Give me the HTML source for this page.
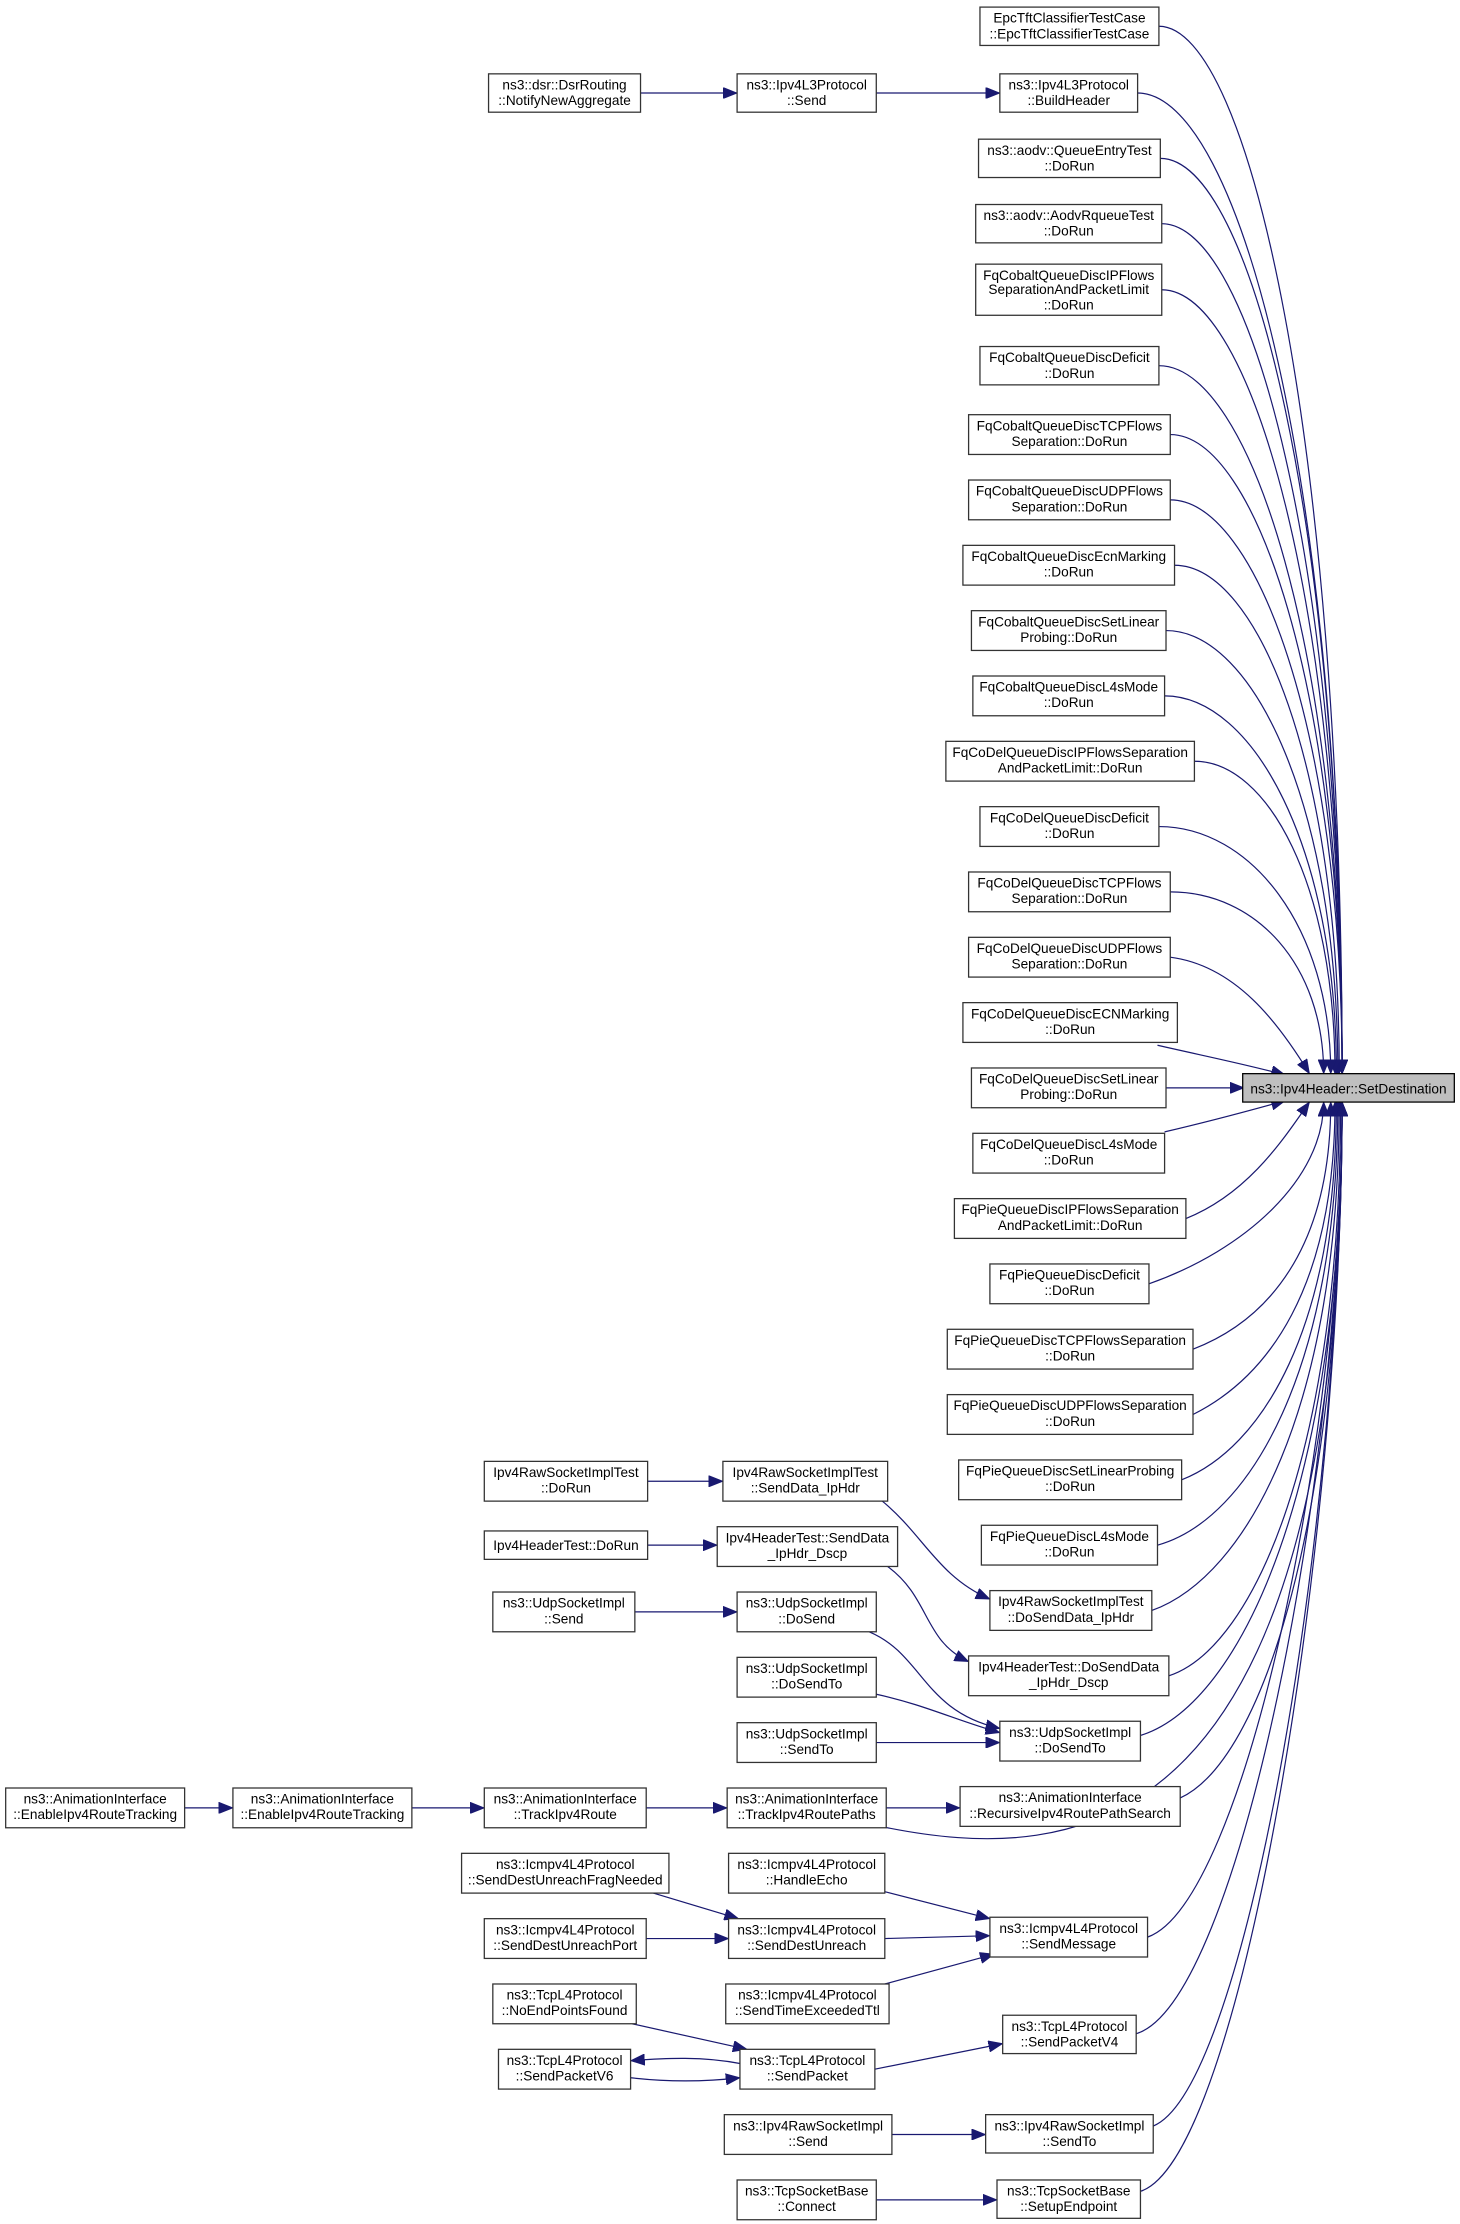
<!DOCTYPE html>
<html><head><meta charset="utf-8"><style>
html,body{margin:0;padding:0;background:#fff;}
svg{display:block;}
text{font-family:"Liberation Sans",Arial,sans-serif;font-size:9.6px;fill:#000;text-anchor:middle;}
rect{fill:#fff;stroke:#333;stroke-width:0.9;}
path{fill:none;stroke:#191970;stroke-width:0.85;}
</style></head><body>
<svg width="1460" height="2224" viewBox="0 0 1028 1566" preserveAspectRatio="none" xmlns="http://www.w3.org/2000/svg">
<defs><marker id="a" markerWidth="10" markerHeight="8" refX="10" refY="4" orient="auto" markerUnits="userSpaceOnUse"><path d="M0,0 L10,4 L0,8 z" style="fill:#191970;stroke:#191970;stroke-width:0.5"/></marker></defs>
<g marker-end="url(#a)">
<path d="M816,18.5 C880,18.5 945,314 945,756"/>
<path d="M801,65.5 C873,65.5 945,342 945,756"/>
<path d="M817,111.5 C881,111.5 945,369 945,756"/>
<path d="M818,157.5 C881,157.5 945,397 945,756"/>
<path d="M818,204 C881,204 945,425 945,756"/>
<path d="M816,257.5 C880,257.5 945,457 945,756"/>
<path d="M824,306 C884,306 945,486 945,756"/>
<path d="M824,352 C884,352 945,514 945,756"/>
<path d="M827,398 C886,398 943,541 943,756"/>
<path d="M821,444 C883,444 942,569 942,756"/>
<path d="M820,490 C882,490 941,596 941,756"/>
<path d="M841,536 C893,536 940,624 940,756"/>
<path d="M816,582 C880,582 937,652 937,756"/>
<path d="M824,628 C884,628 932,679 932,756"/>
<path d="M824,674 C870,680 900,720 922,756"/>
<path d="M815,736 C850,744 880,750 905,757"/>
<path d="M821,766 L876,766"/>
<path d="M820,797 C850,790 880,782 905,775"/>
<path d="M835,858 C880,840 905,800 922,776"/>
<path d="M809,904 C877,880 932,830 932,776"/>
<path d="M840,950 C892,930 937,880 937,776"/>
<path d="M840,996 C892,970 940,908 940,776"/>
<path d="M832,1042 C888,1020 941,936 941,776"/>
<path d="M815,1088 C880,1070 942,963 942,776"/>
<path d="M811,1134 C878,1110 943,991 943,776"/>
<path d="M823,1180 C884,1160 944,1018 944,776"/>
<path d="M803,1222 C874,1200 945,1046 945,776"/>
<path d="M831,1266 C888,1240 945,1074 945,776"/>
<path d="M620,1286 C760,1315 945,1300 945,776"/>
<path d="M808,1364 C876,1340 945,1011 945,776"/>
<path d="M800,1432 C872,1410 945,1039 945,776"/>
<path d="M812,1497 C878,1470 945,1067 945,776"/>
<path d="M803,1543 C874,1520 945,1085 945,776"/>
<!-- left edges -->
<path d="M451,65.5 L519,65.5"/>
<path d="M617,65.5 L704,65.5"/>
<path d="M456,1043 L509,1043"/>
<path d="M620,1056 C650,1080 660,1110 697,1126"/>
<path d="M456,1088 L505,1088"/>
<path d="M625,1103 C655,1125 650,1155 682,1170"/>
<path d="M447,1135 L519,1135"/>
<path d="M612,1149 C650,1165 650,1205 704,1217"/>
<path d="M617,1193 C650,1200 675,1212 704,1220"/>
<path d="M617,1227 L704,1227"/>
<path d="M130,1273 L164,1273"/>
<path d="M290,1273 L341,1273"/>
<path d="M455,1273 L512,1273"/>
<path d="M624,1273 L676,1273"/>
<path d="M460,1333 L520,1351"/>
<path d="M455,1365 L513,1365"/>
<path d="M623,1332 L697,1351"/>
<path d="M623,1365 L697,1363"/>
<path d="M623,1397 L700,1376"/>
<path d="M445,1425 L526,1443"/>
<path d="M521,1453 C495,1448 470,1449 444,1451"/>
<path d="M444,1463 C470,1466 495,1466 521,1463"/>
<path d="M616,1457 L706,1439"/>
<path d="M628,1503 L694,1503"/>
<path d="M617,1549 L702,1549"/>
</g>
<!-- target -->
<rect x="875" y="756" width="149" height="20" style="fill:#bfbfbf;stroke:#000"/>
<text x="949.5" y="770">ns3::Ipv4Header::SetDestination</text>
<!-- right column -->
<rect x="690" y="5" width="126" height="27"/><text x="753" y="16">EpcTftClassifierTestCase</text><text x="753" y="27">::EpcTftClassifierTestCase</text>
<rect x="704" y="52" width="97" height="27"/><text x="752.5" y="63">ns3::Ipv4L3Protocol</text><text x="752.5" y="74">::BuildHeader</text>
<rect x="689" y="98" width="128" height="27"/><text x="753" y="109">ns3::aodv::QueueEntryTest</text><text x="753" y="120">::DoRun</text>
<rect x="687" y="144" width="131" height="27"/><text x="752.5" y="155">ns3::aodv::AodvRqueueTest</text><text x="752.5" y="166">::DoRun</text>
<rect x="687" y="186" width="131" height="36"/><text x="752.5" y="197">FqCobaltQueueDiscIPFlows</text><text x="752.5" y="207">SeparationAndPacketLimit</text><text x="752.5" y="218">::DoRun</text>
<rect x="690" y="244" width="126" height="27"/><text x="753" y="255">FqCobaltQueueDiscDeficit</text><text x="753" y="266">::DoRun</text>
<rect x="682" y="292" width="142" height="28"/><text x="753" y="303">FqCobaltQueueDiscTCPFlows</text><text x="753" y="314">Separation::DoRun</text>
<rect x="682" y="338" width="142" height="28"/><text x="753" y="349">FqCobaltQueueDiscUDPFlows</text><text x="753" y="360">Separation::DoRun</text>
<rect x="678" y="384" width="149" height="28"/><text x="752.5" y="395">FqCobaltQueueDiscEcnMarking</text><text x="752.5" y="406">::DoRun</text>
<rect x="684" y="430" width="137" height="28"/><text x="752.5" y="441">FqCobaltQueueDiscSetLinear</text><text x="752.5" y="452">Probing::DoRun</text>
<rect x="685" y="476" width="135" height="28"/><text x="752.5" y="487">FqCobaltQueueDiscL4sMode</text><text x="752.5" y="498">::DoRun</text>
<rect x="666" y="522" width="175" height="28"/><text x="753.5" y="533">FqCoDelQueueDiscIPFlowsSeparation</text><text x="753.5" y="544">AndPacketLimit::DoRun</text>
<rect x="690" y="568" width="126" height="28"/><text x="753" y="579">FqCoDelQueueDiscDeficit</text><text x="753" y="590">::DoRun</text>
<rect x="682" y="614" width="142" height="28"/><text x="753" y="625">FqCoDelQueueDiscTCPFlows</text><text x="753" y="636">Separation::DoRun</text>
<rect x="682" y="660" width="142" height="28"/><text x="753" y="671">FqCoDelQueueDiscUDPFlows</text><text x="753" y="682">Separation::DoRun</text>
<rect x="678" y="706" width="151" height="28"/><text x="753.5" y="717">FqCoDelQueueDiscECNMarking</text><text x="753.5" y="728">::DoRun</text>
<rect x="684" y="752" width="137" height="28"/><text x="752.5" y="763">FqCoDelQueueDiscSetLinear</text><text x="752.5" y="774">Probing::DoRun</text>
<rect x="685" y="798" width="135" height="28"/><text x="752.5" y="809">FqCoDelQueueDiscL4sMode</text><text x="752.5" y="820">::DoRun</text>
<rect x="672" y="844" width="163" height="28"/><text x="753.5" y="855">FqPieQueueDiscIPFlowsSeparation</text><text x="753.5" y="866">AndPacketLimit::DoRun</text>
<rect x="697" y="890" width="112" height="28"/><text x="753" y="901">FqPieQueueDiscDeficit</text><text x="753" y="912">::DoRun</text>
<rect x="667" y="936" width="173" height="28"/><text x="753.5" y="947">FqPieQueueDiscTCPFlowsSeparation</text><text x="753.5" y="958">::DoRun</text>
<rect x="667" y="982" width="173" height="28"/><text x="753.5" y="993">FqPieQueueDiscUDPFlowsSeparation</text><text x="753.5" y="1004">::DoRun</text>
<rect x="675" y="1028" width="157" height="28"/><text x="753.5" y="1039">FqPieQueueDiscSetLinearProbing</text><text x="753.5" y="1050">::DoRun</text>
<rect x="691" y="1074" width="124" height="28"/><text x="753" y="1085">FqPieQueueDiscL4sMode</text><text x="753" y="1096">::DoRun</text>
<rect x="697" y="1120" width="114" height="28"/><text x="754" y="1131">Ipv4RawSocketImplTest</text><text x="754" y="1142">::DoSendData_IpHdr</text>
<rect x="682" y="1166" width="141" height="28"/><text x="752.5" y="1177">Ipv4HeaderTest::DoSendData</text><text x="752.5" y="1188">_IpHdr_Dscp</text>
<rect x="704" y="1212" width="99" height="28"/><text x="753.5" y="1223">ns3::UdpSocketImpl</text><text x="753.5" y="1234">::DoSendTo</text>
<rect x="676" y="1258" width="155" height="28"/><text x="753.5" y="1269">ns3::AnimationInterface</text><text x="753.5" y="1280">::RecursiveIpv4RoutePathSearch</text>
<rect x="697" y="1350" width="111" height="28"/><text x="752.5" y="1361">ns3::Icmpv4L4Protocol</text><text x="752.5" y="1372">::SendMessage</text>
<rect x="706" y="1419" width="94" height="27"/><text x="753" y="1430">ns3::TcpL4Protocol</text><text x="753" y="1441">::SendPacketV4</text>
<rect x="694" y="1489" width="118" height="27"/><text x="753" y="1500">ns3::Ipv4RawSocketImpl</text><text x="753" y="1511">::SendTo</text>
<rect x="702" y="1535" width="101" height="27"/><text x="752.5" y="1546">ns3::TcpSocketBase</text><text x="752.5" y="1557">::SetupEndpoint</text>
<!-- left nodes -->
<rect x="344" y="52" width="107" height="27"/><text x="397.5" y="63">ns3::dsr::DsrRouting</text><text x="397.5" y="74">::NotifyNewAggregate</text>
<rect x="519" y="52" width="98" height="27"/><text x="568" y="63">ns3::Ipv4L3Protocol</text><text x="568" y="74">::Send</text>
<rect x="341" y="1029" width="115" height="28"/><text x="398.5" y="1040">Ipv4RawSocketImplTest</text><text x="398.5" y="1051">::DoRun</text>
<rect x="509" y="1029" width="116" height="28"/><text x="567" y="1040">Ipv4RawSocketImplTest</text><text x="567" y="1051">::SendData_IpHdr</text>
<rect x="341" y="1078" width="115" height="20"/><text x="398.5" y="1091.5">Ipv4HeaderTest::DoRun</text>
<rect x="505" y="1075" width="127" height="28"/><text x="568.5" y="1086">Ipv4HeaderTest::SendData</text><text x="568.5" y="1097">_IpHdr_Dscp</text>
<rect x="347" y="1121" width="100" height="28"/><text x="397" y="1132">ns3::UdpSocketImpl</text><text x="397" y="1143">::Send</text>
<rect x="519" y="1121" width="98" height="28"/><text x="568" y="1132">ns3::UdpSocketImpl</text><text x="568" y="1143">::DoSend</text>
<rect x="519" y="1167" width="98" height="28"/><text x="568" y="1178">ns3::UdpSocketImpl</text><text x="568" y="1189">::DoSendTo</text>
<rect x="519" y="1213" width="98" height="28"/><text x="568" y="1224">ns3::UdpSocketImpl</text><text x="568" y="1235">::SendTo</text>
<rect x="4" y="1259" width="126" height="28"/><text x="67" y="1270">ns3::AnimationInterface</text><text x="67" y="1281">::EnableIpv4RouteTracking</text>
<rect x="164" y="1259" width="126" height="28"/><text x="227" y="1270">ns3::AnimationInterface</text><text x="227" y="1281">::EnableIpv4RouteTracking</text>
<rect x="341" y="1259" width="114" height="28"/><text x="398" y="1270">ns3::AnimationInterface</text><text x="398" y="1281">::TrackIpv4Route</text>
<rect x="512" y="1259" width="112" height="28"/><text x="568" y="1270">ns3::AnimationInterface</text><text x="568" y="1281">::TrackIpv4RoutePaths</text>
<rect x="325" y="1305" width="146" height="28"/><text x="398" y="1316">ns3::Icmpv4L4Protocol</text><text x="398" y="1327">::SendDestUnreachFragNeeded</text>
<rect x="513" y="1305" width="110" height="28"/><text x="568" y="1316">ns3::Icmpv4L4Protocol</text><text x="568" y="1327">::HandleEcho</text>
<rect x="341" y="1351" width="114" height="28"/><text x="398" y="1362">ns3::Icmpv4L4Protocol</text><text x="398" y="1373">::SendDestUnreachPort</text>
<rect x="513" y="1351" width="110" height="28"/><text x="568" y="1362">ns3::Icmpv4L4Protocol</text><text x="568" y="1373">::SendDestUnreach</text>
<rect x="347" y="1397" width="101" height="28"/><text x="397.5" y="1408">ns3::TcpL4Protocol</text><text x="397.5" y="1419">::NoEndPointsFound</text>
<rect x="511" y="1397" width="115" height="28"/><text x="568.5" y="1408">ns3::Icmpv4L4Protocol</text><text x="568.5" y="1419">::SendTimeExceededTtl</text>
<rect x="351" y="1443" width="93" height="28"/><text x="397.5" y="1454">ns3::TcpL4Protocol</text><text x="397.5" y="1465">::SendPacketV6</text>
<rect x="521" y="1443" width="95" height="28"/><text x="568.5" y="1454">ns3::TcpL4Protocol</text><text x="568.5" y="1465">::SendPacket</text>
<rect x="510" y="1489" width="118" height="28"/><text x="569" y="1500">ns3::Ipv4RawSocketImpl</text><text x="569" y="1511">::Send</text>
<rect x="519" y="1535" width="98" height="28"/><text x="568" y="1546">ns3::TcpSocketBase</text><text x="568" y="1557">::Connect</text>
</svg>
</body></html>
